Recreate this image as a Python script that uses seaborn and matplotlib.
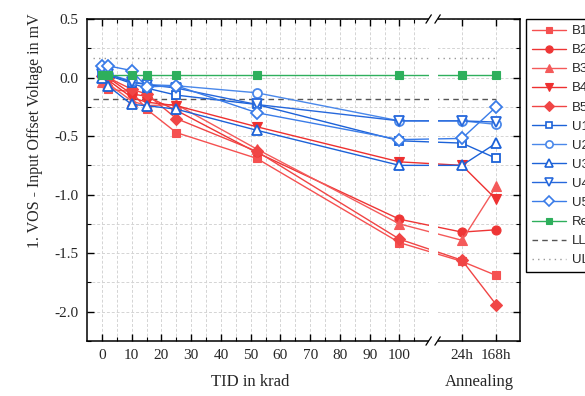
import matplotlib
matplotlib.use("Agg")
import matplotlib.pyplot as plt
import matplotlib.transforms as mtransforms
from matplotlib.lines import Line2D
import seaborn as sns
import pandas as pd

# ---------------- data ----------------
tid_steps = [0, 2, 10, 15, 25, 52, 100]          # krad
anneal_steps = ["24h", "168h"]                    # annealing
tick_tid = [0, 10, 20, 30, 40, 50, 60, 70, 80, 90, 100]

B1 = [0.00, -0.10, -0.12, -0.27, -0.47, -0.69, -1.41, -1.57, -1.69]
B2 = [0.02, 0.00, -0.14, -0.16, -0.28, -0.64, -1.21, -1.32, -1.30]
B3 = [-0.04, -0.05, -0.20, -0.24, -0.23, -0.61, -1.25, -1.39, -0.93]
B4 = [0.01, -0.02, -0.17, -0.21, -0.24, -0.42, -0.72, -0.75, -1.04]
B5 = [0.01, 0.00, -0.10, -0.14, -0.35, -0.63, -1.38, -1.56, -1.94]
U1 = [0.04, 0.02, -0.05, -0.09, -0.15, -0.23, -0.54, -0.56, -0.69]
U2 = [0.05, 0.03, -0.03, -0.06, -0.07, -0.13, -0.37, -0.37, -0.40]
U3 = [0.00, -0.07, -0.23, -0.24, -0.27, -0.45, -0.75, -0.75, -0.56]
U4 = [0.03, 0.03, -0.04, -0.06, -0.09, -0.23, -0.37, -0.37, -0.38]
U5 = [0.10, 0.10, 0.06, -0.08, -0.07, -0.30, -0.53, -0.52, -0.25]
Ref = [0.02, 0.02, 0.02, 0.02, 0.02, 0.02, 0.02, 0.02, 0.02]
LL = -0.18
UL = 0.17

series_names = ["B1", "B2", "B3", "B4", "B5", "U1", "U2", "U3", "U4", "U5", "Ref"]
series_vals = [B1, B2, B3, B4, B5, U1, U2, U3, U4, U5, Ref]

# ---------------- layout / style ----------------
anneal_pos = {"24h": 121.0, "168h": 132.5}   # position of annealing steps on the axis
positions = tid_steps + [anneal_pos[a] for a in anneal_steps]

styles = {
    "B1": dict(color="#F55050", marker="s", filled=True),
    "B2": dict(color="#EE3535", marker="o", filled=True),
    "B3": dict(color="#F45A5A", marker="^", filled=True),
    "B4": dict(color="#EE3030", marker="v", filled=True),
    "B5": dict(color="#F04545", marker="D", filled=True),
    "U1": dict(color="#1C62D8", marker="s", filled=False),
    "U2": dict(color="#4A88EA", marker="o", filled=False),
    "U3": dict(color="#1C62D8", marker="^", filled=False),
    "U4": dict(color="#2668DC", marker="v", filled=False),
    "U5": dict(color="#3A7CE8", marker="D", filled=False),
    "Ref": dict(color="#2EAF5C", marker="s", filled=True),
}
msize = {"s": 6.0, "o": 6.5, "^": 7.0, "v": 7.0, "D": 5.8}

rows = []
for name, vals in zip(series_names, series_vals):
    for p, v in zip(positions, vals):
        rows.append(dict(series=name, pos=p, vos=v))
df = pd.DataFrame(rows)

sns.set_theme(style="ticks")
plt.rcParams["font.family"] = ["Liberation Serif", "DejaVu Serif"]
plt.rcParams["axes.linewidth"] = 1.0

fig = plt.figure(figsize=(5.85, 3.96), dpi=100)
ax = fig.add_axes([87 / 585, 1 - 341 / 396, 433 / 585, 322 / 396])

for name in series_names:
    st = styles[name]
    sub = df[df.series == name]
    ms = msize[st["marker"]]
    if name == "Ref":
        ms = 5.5
    sns.lineplot(data=sub, x="pos", y="vos", ax=ax, color=st["color"],
                 marker=st["marker"], markersize=ms,
                 mfc=st["color"] if st["filled"] else "white",
                 mec=st["color"], mew=1.3 if not st["filled"] else 0.8,
                 linewidth=1.0, sort=False, estimator=None, legend=False,
                 zorder=3)

ax.hlines(LL, -3, anneal_pos["168h"], colors="#555555", linestyles=(0, (4, 3)), lw=1.0, zorder=2)
ax.hlines(UL, -3, anneal_pos["168h"], colors="#999999", linestyles=(0, (1, 3)), lw=1.0, zorder=2)

ax.set_xlim(-5, 140.5)
ax.set_ylim(-2.25, 0.5)

major_x = tick_tid + [anneal_pos[a] for a in anneal_steps]
ax.set_xticks(major_x)
ax.set_xticklabels([str(t) for t in tick_tid] + anneal_steps, fontsize=11)
ax.set_xticks([5, 15, 25, 35, 45, 55, 65, 75, 85, 95, 105], minor=True)
ax.set_yticks([-2.0, -1.5, -1.0, -0.5, 0.0, 0.5])
ax.set_yticklabels(["-2.0", "-1.5", "-1.0", "-0.5", "0.0", "0.5"], fontsize=11)
ax.set_yticks([-2.25, -1.75, -1.25, -0.75, -0.25, 0.25], minor=True)
ax.tick_params(which="both", direction="in", top=True, right=True, color="black")
ax.tick_params(which="major", length=5, width=1.0, pad=6)
ax.tick_params(which="minor", length=3, width=0.8)
ax.grid(True, which="both", color="#d4d4d4", linestyle=(0, (3, 2)), linewidth=0.7)
ax.set_axisbelow(True)
for sp in ax.spines.values():
    sp.set_color("black")
    sp.set_linewidth(1.1)
ax.set_xlabel("")
ax.set_ylabel("")

# axis break
ax.axvspan(109.8, 112.8, ymin=-0.03, ymax=1.03, color="white", zorder=6, clip_on=False, lw=0)
trans = mtransforms.blended_transform_factory(ax.transData, ax.transAxes)
for xb in (109.8, 112.8):
    for yb in (0.0, 1.0):
        ax.plot([xb - 0.9, xb + 0.9], [yb - 0.013, yb + 0.013], color="black",
                lw=0.9, transform=trans, clip_on=False, zorder=7)

# labels
ax.text(50, -0.127, "TID in krad", transform=trans, ha="center", va="center", fontsize=12)
ax.text(127, -0.127, "Annealing", transform=trans, ha="center", va="center", fontsize=12)
ax.text(-0.119, 0.652, "1. VOS - Input Offset Voltage in mV", transform=ax.transAxes,
        rotation=90, ha="center", va="center", fontsize=11.5)

# legend
handles = []
for name in series_names:
    st = styles[name]
    handles.append(Line2D([], [], color=st["color"], marker=st["marker"], markersize=msize[st["marker"]] * 0.8,
                          mfc=st["color"] if st["filled"] else "white", mec=st["color"],
                          mew=1.2 if not st["filled"] else 0.8, lw=1.0))
handles.append(Line2D([], [], color="#555555", linestyle=(0, (4, 3)), lw=1.0))
handles.append(Line2D([], [], color="#999999", linestyle=(0, (1, 3)), lw=1.0))
labels = series_names + ["LL", "UL"]
leg = fig.legend(handles, labels, loc="upper left", bbox_to_anchor=(526 / 585, 1 - 19 / 396),
                 frameon=True, fancybox=False, edgecolor="black", framealpha=1,
                 prop={"family": "Liberation Sans", "size": 9.5}, handlelength=2.6,
                 borderpad=0.45, labelspacing=0.52, handletextpad=0.4, borderaxespad=0)
leg.get_frame().set_linewidth(1.0)

fig.savefig("out.png", dpi=100)
